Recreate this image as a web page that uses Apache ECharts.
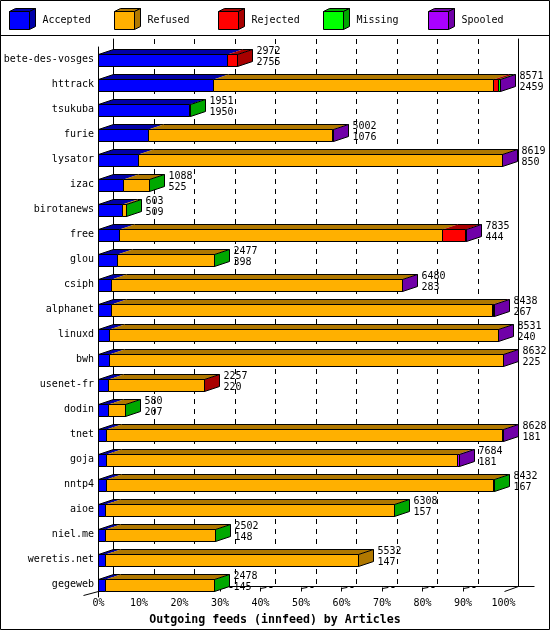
<!DOCTYPE html>
<html><head><meta charset="utf-8">
<script src="https://cdn.jsdelivr.net/npm/echarts@6/dist/echarts.min.js"></script>
<style>html,body{margin:0;padding:0;background:#fff}#c{width:550px;height:630px}</style>
</head><body><div id="c"></div>
<script>
const categories = ['bete-des-vosges','httrack','tsukuba','furie','lysator','izac','birotanews','free','glou','csiph','alphanet','linuxd','bwh','usenet-fr','dodin','tnet','goja','nntp4','aioe','niel.me','weretis.net','gegeweb'];
const totals   = [2972,8571,1951,5002,8619,1088,603,7835,2477,6480,8438,8531,8632,2257,580,8628,7684,8432,6308,2502,5532,2478];
const accepted = [2755,2459,1950,1076,850,525,509,444,398,283,267,240,225,220,207,181,181,167,157,148,147,145];
const refused  = [0,5962,0,3916,7759,558,91,6881,2076,6187,8131,8281,8397,2034,370,8437,7463,8262,6148,2351,5385,2330];
const rejected = [217,100,0,0,0,0,0,500,0,0,30,0,0,3,0,0,0,0,0,0,0,0];
const missing  = [0,45,1,0,0,5,3,0,3,0,0,0,0,0,3,0,0,3,3,3,0,3];
const spooled  = [0,5,0,10,10,0,0,10,0,10,10,10,10,0,0,10,40,0,0,0,0,0];
const seriesNames = ['Accepted','Refused','Rejected','Missing','Spooled'];
const xTicks = [0,10,20,30,40,50,60,70,80,90,100];

const colors = ['#0000ff','#ffb000','#ff0000','#00ff00','#aa00ff'];
const darks  = ['#0000a8','#b07800','#a80000','#00a800','#7000a8'];
const MONO = '"DejaVu Sans Mono", "Liberation Mono", monospace';
const DX = 15, DY = 5, BH = 12;

const segArrays = [accepted, refused, rejected, missing, spooled];
const maxTotal = Math.max(...totals);
function lastIdx(i){ let l = 0; for (let k=0;k<5;k++) if (segArrays[k][i] > 0) l = k; return l; }

function px(v){ return Math.floor(v) + 0.5; }

function makeSeries(k){
  const data = [];
  categories.forEach((c,i)=>{
    let s = 0; for (let j=0;j<k;j++) s += segArrays[j][i];
    const e = s + segArrays[k][i];
    if (segArrays[k][i] > 0) data.push([s/maxTotal*100, e/maxTotal*100, i, lastIdx(i)===k ? 1 : 0]);
  });
  return {
    type:'custom', name: seriesNames[k], xAxisIndex:0, yAxisIndex:0, clip:false, z: 5,
    encode:{x:[0,1], y:2},
    data,
    renderItem(params, api){
      const i = api.value(2);
      const p0 = api.coord([api.value(0), i]);
      const p1 = api.coord([api.value(1), i]);
      const yc = p0[1];
      const yT = Math.round(yc - BH/2) + 0.5, yB = yT + BH;
      const x0 = px(p0[0]), x1 = px(p1[0]);
      const ch = [];
      ch.push({type:'polygon', shape:{points:[[x0,yT],[x1,yT],[x1+DX,yT-DY],[x0+DX,yT-DY]]}, style:{fill:darks[k], stroke:null}});
      ch.push({type:'rect', shape:{x:x0, y:yT, width:x1-x0, height:BH}, style:{fill:colors[k], stroke:'#000', lineWidth:1}});
      ch.push({type:'line', shape:{x1:x0+DX, y1:yT-DY, x2:x1+DX, y2:yT-DY}, style:{stroke:'#000', lineWidth:1}});
      if (api.value(0) === 0) ch.push({type:'line', shape:{x1:x0, y1:yT, x2:x0+DX, y2:yT-DY}, style:{stroke:'#000', lineWidth:1}});
      if (api.value(3) === 1){
        ch.push({type:'polygon', shape:{points:[[x1,yT],[x1+DX,yT-DY],[x1+DX,yB-DY],[x1,yB]]}, style:{fill:darks[k], stroke:'#000', lineWidth:1}});
        ch.push({type:'text', style:{x:x1+DX+4, y:yc-3, text: totals[i] + '\n' + accepted[i], fill:'#000', font:'10px ' + MONO, lineHeight:11, align:'left', verticalAlign:'middle', textAlign:'left', textVerticalAlign:'middle'}});
      }
      return {type:'group', children: ch};
    }
  };
}

const series = [0,1,2,3,4].map(makeSeries);

// 3D floor tick marks
series.push({
  type:'custom', name:'ticks', xAxisIndex:0, yAxisIndex:0, clip:false, z:3, silent:true,
  encode:{x:0, y:1},
  data: xTicks.filter(v=>v>0 && v<100).map(v=>[v, categories.length-1]),
  renderItem(params, api){
    const p = api.coord([api.value(0), api.value(1)]);
    const x = px(p[0]), y = Math.round(p[1]) + 6.5;
    return {type:'group', children:[
      {type:'line', shape:{x1:x, y1:y, x2:x, y2:y-4}, style:{stroke:'#000', lineWidth:1}},
      {type:'line', shape:{x1:x, y1:y-3, x2:x+DX-4, y2:y-DY}, style:{stroke:'#000', lineWidth:1, lineDash:[6,3]}},
      {type:'rect', shape:{x:x+DX-6, y:y-DY-0.5, width:3, height:2}, style:{fill:'#000'}}
    ]};
  }
});
// 3D floor corner lines
series.push({
  type:'custom', name:'corners', xAxisIndex:0, yAxisIndex:0, clip:false, z:3, silent:true,
  encode:{x:0, y:1},
  data: [[0, categories.length-1, -1], [100, categories.length-1, 1]],
  renderItem(params, api){
    const p = api.coord([api.value(0), api.value(1)]);
    const x = px(p[0]), y = Math.round(p[1]) + 6.5;
    if (api.value(2) < 0) {
      return {type:'line', shape:{x1:x-DX, y1:y+4, x2:x, y2:y}, style:{stroke:'#000', lineWidth:1}};
    }
    return {type:'group', children:[
      {type:'line', shape:{x1:x+1, y1:y, x2:x+DX, y2:y-DY}, style:{stroke:'#000', lineWidth:1}},
      {type:'line', shape:{x1:x+DX, y1:y-DY, x2:x+DX+16, y2:y-DY}, style:{stroke:'#000', lineWidth:1}}
    ]};
  }
});

// legend cubes
const graphic = [
  {type:'rect', shape:{x:0.5, y:0.5, width:549, height:629}, style:{fill:null, stroke:'#000', lineWidth:1}, z:100},
  {type:'line', shape:{x1:0, y1:35.5, x2:550, y2:35.5}, style:{stroke:'#000', lineWidth:1}}
];
seriesNames.forEach((n,k)=>{
  const x = Math.round(9 + k*104.7) + 0.5;
  const yT = 11.5, h = 18, w = 20, dx = 6, dy = 3;
  graphic.push({type:'group', children:[
    {type:'polygon', shape:{points:[[x,yT],[x+w,yT],[x+w+dx,yT-dy],[x+dx,yT-dy]]}, style:{fill:darks[k], stroke:'#000', lineWidth:1}},
    {type:'polygon', shape:{points:[[x+w,yT],[x+w+dx,yT-dy],[x+w+dx,yT+h-dy],[x+w,yT+h]]}, style:{fill:darks[k], stroke:'#000', lineWidth:1}},
    {type:'rect', shape:{x:x, y:yT, width:w, height:h}, style:{fill:colors[k], stroke:'#000', lineWidth:1}},
    {type:'text', style:{x:x+33, y:20.5, text:n, fill:'#000', font:'10px ' + MONO, textVerticalAlign:'middle', verticalAlign:'middle'}}
  ]});
});

const chart = echarts.init(document.getElementById('c'), null, {renderer:'canvas'});
chart.setOption({
  animation:false,
  backgroundColor:'#fff',
  title:{text:'Outgoing feeds (innfeed) by Articles', left:'center', top:609,
    textStyle:{fontFamily:MONO, fontWeight:'bold', fontSize:11.6, color:'#000'}},
  legend:{show:false},
  grid:[
    {left:98.5, width:405, top:47, height:550},
    {left:113.5, width:405, top:39, height:547}
  ],
  xAxis:[
    {type:'value', gridIndex:0, min:0, max:100, interval:10,
      axisLine:{show:false}, axisTick:{show:false}, splitLine:{show:false},
      axisLabel:{formatter:'{value}%', margin:1, color:'#000', fontFamily:MONO, fontSize:10}},
    {type:'value', gridIndex:1, min:0, max:100, interval:10,
      axisLine:{show:true, onZero:false, lineStyle:{color:'#000', width:1}}, axisTick:{show:false}, axisLabel:{show:false},
      splitLine:{show:true, lineStyle:{color:'#000', width:1, type:[5,5]}}}
  ],
  yAxis:[
    {type:'category', gridIndex:0, data:categories, inverse:true,
      axisLine:{show:true, lineStyle:{color:'#000', width:1}}, axisTick:{show:false}, splitLine:{show:false},
      axisLabel:{margin:4.5, color:'#000', fontFamily:MONO, fontSize:10}},
    {type:'value', gridIndex:1, min:0, max:1, position:'left',
      axisLine:{show:true, lineStyle:{color:'#000', width:1}}, axisTick:{show:false}, axisLabel:{show:false}, splitLine:{show:false}},
    {type:'value', gridIndex:1, min:0, max:1, position:'right',
      axisLine:{show:true, lineStyle:{color:'#000', width:1}}, axisTick:{show:false}, axisLabel:{show:false}, splitLine:{show:false}}
  ],
  graphic,
  series
});
</script></body></html>
